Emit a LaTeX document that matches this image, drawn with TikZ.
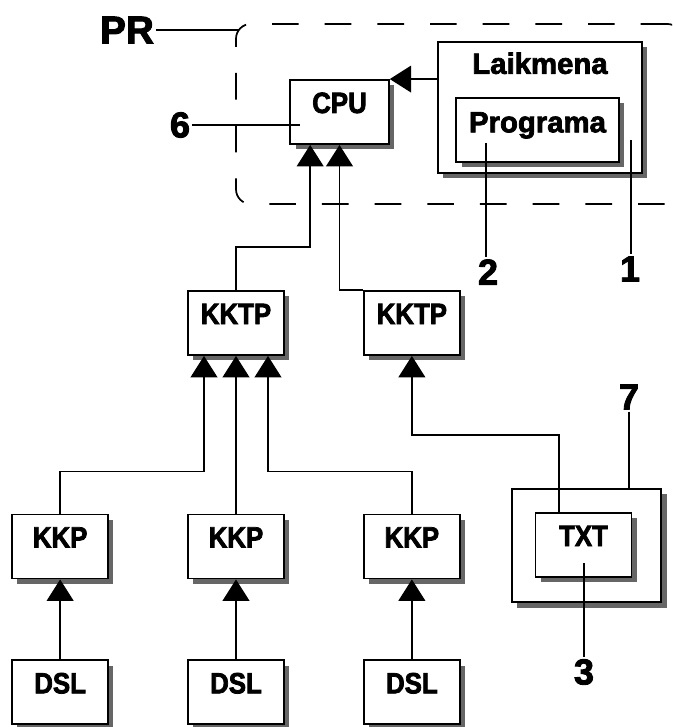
\documentclass[tikz,border=0pt]{standalone}
\usepackage{fontspec}
\setmainfont{Liberation Sans}[BoldFeatures={FakeBold=2.5}]
\newfontfamily\capsfont{Liberation Sans}[FakeStretch=0.88, BoldFeatures={FakeBold=2.5, FakeStretch=0.88}]
\usepackage{tikz}
\usetikzlibrary{arrows.meta, positioning, calc, shadows}
\tikzstyle{arrow} = [line width=1.2pt, ->, >={Triangle[width=20pt,length=16pt]}]
\tikzstyle{box} = [draw, rectangle, line width=1.4pt, fill=white, drop shadow={shadow xshift=4pt, shadow yshift=-4pt, fill=black!60, opacity=1}, minimum width=72pt, minimum height=48pt, inner ysep=9pt, text height=15.75pt, text depth=14.25pt, font=\fontsize{22}{26}\selectfont\capsfont\bfseries]
\tikzstyle{num} = [inner sep=1pt, font=\fontsize{27}{30}\selectfont\bfseries]

\begin{document}
\begin{tikzpicture}[x=0.75pt, y=-0.75pt, line width=1.2pt]
\useasboundingbox (0,0) rectangle (672,727);
\clip (0,0) rectangle (672,727);

% Frame
\node (pr) [draw, dash pattern=on 20pt off 19.5pt, line width=1.3pt, rounded corners=11pt, minimum width=334.5pt, minimum height=135pt] at (459,114) {};
\node (prl) [num, font=\fontsize{29}{32}\selectfont\bfseries] at (127,30) {PR};
\coordinate (prc) at (239,30);
\draw (prl.east) -- (prc);

% Boxes
\node (cpu) [box, minimum width=74pt] at (339.5,112) {CPU};
\node (lk) [box, minimum width=153pt, minimum height=98pt, inner ysep=8pt, text height=15.75pt, text depth=66.25pt, font=\fontsize{22}{26}\selectfont\bfseries] at (540,107.5) {Laikmena};
\node (prog) [box, minimum width=122pt, inner ysep=10pt, text height=15.75pt, text depth=12.25pt, font=\fontsize{22}{26}\selectfont\bfseries] at (537.5,130) {Programa};

\node (kktpa) [box] at (236,323) {KKTP};
\node (kktpb) [box, right=58.5pt of kktpa] {KKTP};

\node (kkpb) [box] at (236,546.5) {KKP};
\node (kkpa) [box, left=58.5pt of kkpb] {KKP};
\node (kkpc) [box, right=58.5pt of kkpb] {KKP};
\node (dsla) [box, below=60pt of kkpa] {DSL};
\node (dslb) [box, below=60pt of kkpb] {DSL};
\node (dslc) [box, below=60pt of kkpc] {DSL};

\node (outer) [box, minimum width=112pt, minimum height=85pt] at (586.5,545.5) {};
\node (txt) [box] at (583.5,545) {TXT};

% Connections
\draw [arrow] (lk.west |- cpu.north east) -- (cpu.north east);
\draw [arrow] (kktpa.north) -- ++(0,-43) -| ([xshift=-22pt]cpu.south);
\draw [arrow] (kktpb.north west) -| (cpu.south);
\draw [arrow] (kkpa.north) -- ++(0,-42) -| ([xshift=-24pt]kktpa.south);
\draw [arrow] (kkpb.north) -- (kktpa.south);
\draw [arrow] (kkpc.north) -- ++(0,-42) -| ([xshift=24pt]kktpa.south);
\foreach \i in {a,b,c}
    \draw [arrow] (dsl\i.north) -- (kkp\i.south);
\draw [arrow] ([xshift=-18.4pt]txt.north) -- ++(0,-77) -| (kktpb.south);

% Labels
\node (n6) [num] at (180,125) {6};
\coordinate (p6) at (300,125);
\draw (n6.east) -- (p6);
\node (n2) [num] at (488,272) {2};
\coordinate (p2) at (486,143);
\draw (p2) -- (p2 |- n2.north);
\node (n1) [num] at (630,269) {1};
\coordinate (p1) at (631,140);
\draw (p1) -- (p1 |- n1.north);
\node (n7) [num] at (629,397) {7};
\draw (n7.south) -- (n7.south |- outer.north);
\node (n3) [num] at (584,672) {3};
\coordinate (p3) at (584,563);
\draw (p3) -- (n3.north);
\end{tikzpicture}
\end{document}
